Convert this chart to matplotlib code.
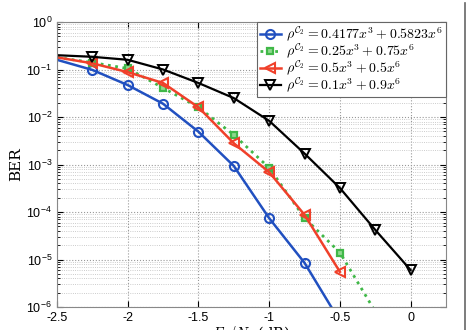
import matplotlib
matplotlib.use("Agg")
import matplotlib.pyplot as plt
from matplotlib.lines import Line2D

plt.rcParams['font.family'] = ['Liberation Sans', 'DejaVu Sans']
plt.rcParams['mathtext.fontset'] = 'cm'

# Eb/N0 (dB) and BER for each degree distribution
x_blue = [-2.5, -2.25, -2.0, -1.75, -1.5, -1.25, -1.0, -0.75, -0.5]
ber_blue = [0.16, 0.098, 0.047, 0.019, 0.0049, 9.3e-4, 7.4e-5, 8.5e-6, 5e-7]

x_green = [-2.5, -2.25, -2.0, -1.75, -1.5, -1.25, -1.0, -0.75, -0.5, -0.25]
ber_green = [0.18, 0.14, 0.105, 0.041, 0.016, 0.0042, 8.5e-4, 7.5e-5, 1.4e-5, 8e-7]

x_red = [-2.5, -2.25, -2.0, -1.75, -1.5, -1.25, -1.0, -0.75, -0.5]
ber_red = [0.18, 0.135, 0.088, 0.052, 0.016, 0.0028, 6.9e-4, 8.7e-5, 5.5e-6]

x_black = [-2.5, -2.25, -2.0, -1.75, -1.5, -1.25, -1.0, -0.75, -0.5, -0.25, 0.0]
ber_black = [0.2, 0.185, 0.16, 0.1, 0.052, 0.025, 0.0083, 0.0017, 3.2e-4, 4.2e-5, 6e-6]

labels = [r'$\rho^{\mathcal{C}_2} = 0.4177x^3 + 0.5823x^6$',
          r'$\rho^{\mathcal{C}_2} = 0.25x^3 + 0.75x^6$',
          r'$\rho^{\mathcal{C}_2} = 0.5x^3 + 0.5x^6$',
          r'$\rho^{\mathcal{C}_2} = 0.1x^3 + 0.9x^6$']

xticks = [-2.5, -2, -1.5, -1, -0.5, 0]
xticklabels = ['-2.5', '-2', '-1.5', '-1', '-0.5', '0']
yexp = [-6, -5, -4, -3, -2, -1, 0]

fig = plt.figure(figsize=(4.68, 3.3), dpi=100)
ax = fig.add_axes([57 / 468, 23 / 330, 389 / 468, 285 / 330])

mk = slice(1, None)
ax.semilogy(x_blue, ber_blue, '-', color='#2150c0', lw=1.8, marker='o', ms=6.5,
            mfc='none', mew=1.5, markevery=mk, label=labels[0])
ax.semilogy(x_green, ber_green, ':', color='#40b848', lw=2.0, marker='s', ms=5,
            mfc='#8fd88f', mew=1.6, markevery=mk, label=labels[1])
ax.semilogy(x_red, ber_red, '-', color='#f0402a', lw=1.8, marker='<', ms=7,
            mfc='none', mew=1.5, markevery=mk, label=labels[2])
ax.semilogy(x_black, ber_black, '-', color='black', lw=1.6, marker='v', ms=7,
            mfc='none', mew=1.4, markevery=mk, label=labels[3])

ax.set_xlim(-2.5, 0.25)
ax.set_ylim(1e-6, 1)
ax.set_xticks(xticks)
ax.set_xticklabels(xticklabels)
ax.set_yticks([10.0 ** k for k in yexp])
ax.set_yticklabels([r'$\mathregular{10^{%d}}$' % k for k in yexp])
ax.tick_params(which='both', direction='in', top=True, right=True, labelsize=9)
ax.tick_params(which='major', length=4)
ax.tick_params(which='minor', length=2)
ax.grid(True, which='major', ls=':', color='#999999', lw=0.8)
ax.grid(True, which='minor', axis='y', ls=':', color='#bbbbbb', lw=0.6)
for s in ax.spines.values():
    s.set_color('#888888')
    s.set_linewidth(0.8)

ax.set_xlabel(r'$E_b/N_0$ (dB)', fontsize=10.5, labelpad=0, family=['DejaVu Serif'])
ax.set_ylabel('BER', fontsize=11, family=['DejaVu Serif'], labelpad=2)

leg = ax.legend(loc='upper right', fontsize=10, handlelength=1.5,
                borderaxespad=0, fancybox=False, edgecolor='#666666',
                framealpha=1, borderpad=0.2, labelspacing=-0.12,
                handletextpad=0.4)
leg.get_frame().set_linewidth(0.8)

# frame edge of the original picture
fig.add_artist(Line2D([465 / 468, 465 / 468], [0, 0.99], color='#666666', lw=1.2))

fig.savefig('out.png', dpi=100)
